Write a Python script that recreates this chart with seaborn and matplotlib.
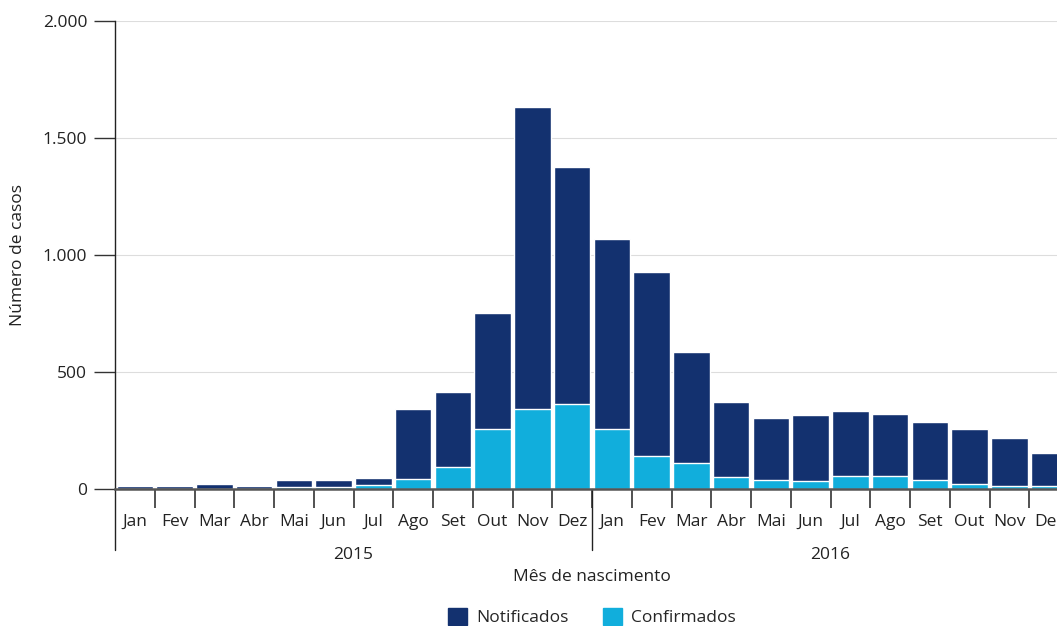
import numpy as np
import pandas as pd
import matplotlib.pyplot as plt
import seaborn as sns
from matplotlib.patches import Patch

# Data
meses = ['Jan', 'Fev', 'Mar', 'Abr', 'Mai', 'Jun', 'Jul', 'Ago', 'Set', 'Out', 'Nov', 'Dez']
anos = ['2015', '2016']
notificados = [14, 14, 23, 14, 40, 40, 48, 343, 415, 752, 1633, 1376,
               1068, 927, 585, 372, 303, 316, 333, 320, 286, 257, 218, 154]
confirmados = [0, 0, 0, 0, 10, 10, 18, 44, 95, 257, 343, 364,
               257, 141, 111, 51, 40, 35, 57, 57, 40, 23, 14, 14]

rotulos = [f'{m} {a}' for a in anos for m in meses]
df = pd.DataFrame({'mes': rotulos, 'notificados': notificados, 'confirmados': confirmados})

cor_notif = '#13316F'
cor_conf = '#11AEDC'

sns.set_theme(style='white')
plt.rcParams['font.family'] = ['Open Sans', 'DejaVu Sans']

fig = plt.figure(figsize=(10.57, 6.26), dpi=100)
ax = fig.add_axes([115 / 1057, 1 - 489 / 626, 1 - 115 / 1057, (489 - 21) / 626])

sns.barplot(data=df, x='mes', y='notificados', color=cor_notif, width=0.92,
            saturation=1, ax=ax)
sns.barplot(data=df, x='mes', y='confirmados', color=cor_conf, width=0.92,
            saturation=1, ax=ax)

ax.set_yticks([0, 500, 1000, 1500, 2000])
ax.set_yticklabels(['0', '500', '1.000', '1.500', '2.000'], fontsize=12.5, color='#222222')
ax.yaxis.grid(True, color='#dddddd', linewidth=0.8)
ax.set_axisbelow(True)
ax.tick_params(axis='y', length=15, width=1, color='#333333', pad=5, left=True)

# month labels at centres, ticks at boundaries
ax.set_xticks(np.arange(24))
ax.set_xticklabels(meses * 2, fontsize=12.5, color='#222222')
ax.tick_params(axis='x', which='major', length=0, pad=18)
ax.set_xticks(np.arange(24) + 0.5, minor=True)
ax.tick_params(axis='x', which='minor', length=14, width=1.2, color='#333333', bottom=True)

for s in ['top', 'right']:
    ax.spines[s].set_visible(False)
ax.spines['left'].set_color('#222222')
ax.spines['left'].set_linewidth(1)
ax.spines['bottom'].set_color('#555555')
ax.spines['bottom'].set_linewidth(1.8)

trans = ax.get_xaxis_transform()
ax.plot([-0.5, -0.5], [0, -0.13], transform=trans, color='#222222', lw=1, clip_on=False)
ax.plot([11.5, 11.5], [0, -0.13], transform=trans, color='#222222', lw=1, clip_on=False)
ax.text(5.5, -0.14, '2015', transform=trans, ha='center', va='center', fontsize=12.5, color='#222222')
ax.text(17.5, -0.14, '2016', transform=trans, ha='center', va='center', fontsize=12.5, color='#222222')

ax.set_xlabel('')
ax.set_ylabel('Número de casos', fontsize=12.5, color='#222222', labelpad=12)
fig.text(592 / 1057, 1 - 577 / 626, 'Mês de nascimento', ha='center', va='center',
         fontsize=12.5, color='#222222')

handles = [Patch(color=cor_notif, label='Notificados'), Patch(color=cor_conf, label='Confirmados')]
fig.legend(handles=handles, loc='center', bbox_to_anchor=(592 / 1057, 1 - 617 / 626), ncol=2,
           frameon=False, fontsize=12.5, handlelength=1.1, handleheight=1.1, columnspacing=2,
           handletextpad=0.5)

# the chart is cut off at the right edge, partway through the last bar
ax.set_ylim(0, 2000)
ax.set_xlim(-0.5, -0.5 + 942 / 39.75)

fig.savefig('out.png', dpi=100)
